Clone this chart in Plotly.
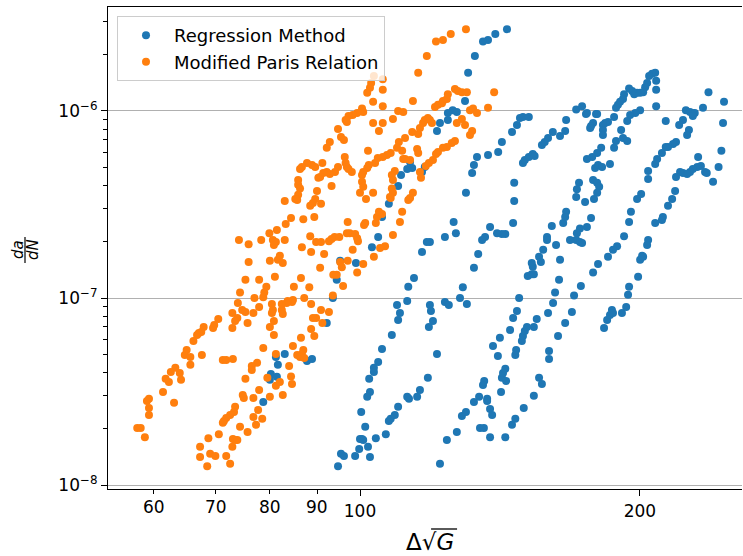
import math
import plotly.graph_objects as go

# ---- data: Regression Method (blue) ----
reg_x = [80.2, 80.0, 81.4, 81.2, 83.0, 81.6, 87.7, 88.8, 78.7, 92.1,
         93.5, 94.4, 95.2, 99.0, 103.0, 104.6, 105.6, 107.4, 109.6, 109.9,
         108.2, 105.6, 104.6, 103.5, 103.5, 102.3, 102.5, 101.8, 100.3, 101.3,
         100.0, 100.5, 100.8, 99.8, 102.0, 102.5, 98.8, 95.4, 96.1, 94.7,
         104.0, 106.6, 107.4, 107.9, 109.0, 109.9, 109.9, 130.7, 129.7, 125.8,
         127.1, 124.3, 124.3, 121.9, 121.0, 113.2, 113.8, 112.4, 110.7, 117.4,
         116.6, 133.6, 132.6, 132.0, 130.0, 143.9, 139.8, 137.3, 135.6, 132.9,
         137.3, 140.8, 142.1, 145.7, 147.5, 148.6, 149.7, 151.9, 146.5, 146.5,
         146.1, 143.3, 142.1, 140.4, 138.0, 136.3, 135.3, 134.0, 132.6, 129.0,
         128.1, 126.1, 126.8, 123.4, 118.9, 118.0, 116.6, 114.3, 112.7, 149.7,
         150.4, 151.9, 153.4, 154.1, 156.9, 158.0, 159.3, 161.2, 164.1, 166.2,
         166.6, 170.8, 173.3, 175.0, 179.4, 178.1, 177.2, 176.8, 207.7, 206.1,
         204.6, 208.2, 208.2, 203.6, 202.6, 201.6, 200.1, 198.6, 197.2, 196.2,
         194.7, 192.3, 191.8, 190.4, 189.4, 188.5, 187.6, 208.2, 200.1, 197.7,
         195.2, 193.8, 190.9, 188.5, 191.8, 193.8, 187.6, 184.8, 183.5, 182.5,
         182.5, 182.5, 179.9, 175.4, 181.7, 179.9, 177.7, 175.4, 179.0, 180.3,
         182.1, 185.7, 178.1, 179.9, 180.8, 179.9, 178.5, 172.0, 171.1, 170.8,
         174.6, 177.2, 175.4, 172.4, 171.1, 170.8, 172.4, 173.3, 168.2, 166.6,
         166.2, 165.4, 160.8, 158.9, 158.9, 162.5, 157.4, 164.1, 213.2, 224.1,
         226.4, 228.0, 229.1, 228.0, 233.8, 237.0, 246.3, 245.7, 222.5, 220.4,
         225.8, 224.8, 218.7, 217.1, 214.4, 213.2, 211.2, 208.7, 207.7, 204.1,
         204.1, 200.6, 198.6, 195.6, 194.7, 192.3, 189.0, 187.1, 184.8, 204.1,
         203.6, 201.6, 231.0, 232.6, 230.5, 228.0, 226.4, 224.8, 222.5, 220.9,
         218.7, 235.0, 236.0, 239.7, 243.0, 244.7, 218.2, 216.6, 214.4, 211.7,
         211.2, 207.7, 139.0, 141.4, 145.0, 146.1, 147.5, 148.3, 149.3, 149.7,
         150.4, 151.2, 153.8, 154.9, 151.5, 153.0, 153.8, 153.4, 153.0, 155.8,
         156.5, 163.7, 162.1, 161.3, 159.3, 163.3, 166.2, 169.0, 169.9, 172.8,
         178.1, 180.3, 183.0, 184.4, 185.7, 186.6, 187.1, 191.3, 193.3, 194.2,
         194.7, 199.1, 200.1, 201.1, 112.4, 110.4, 118.9, 119.2, 119.8, 118.6,
         123.4, 124.6, 130.3, 121.0, 118.3, 116.0, 115.2, 112.9, 112.4, 121.9,
         124.0, 127.1, 128.7, 130.0, 132.6, 134.3, 136.0, 135.6, 137.0, 137.0,
         138.0, 138.7, 138.0, 134.6, 135.9, 140.7, 141.8, 142.1, 142.5, 143.3,
         143.6, 143.3, 145.7, 146.9, 147.2, 146.9, 150.0, 153.8, 155.8, 156.9,
         159.7, 159.7]
reg_y = [3.92e-8, 3.65e-8, 3.79e-8, 4.84e-8, 5.02e-8, 4.39e-8, 4.60e-8, 4.72e-8, 2.78e-8, 7.36e-8,
         1.00e-7, 1.25e-7, 1.58e-7, 1.54e-7, 1.87e-7, 2.12e-7, 2.71e-7, 3.19e-7, 9.18e-8, 7.63e-8,
         6.35e-8, 5.34e-8, 4.55e-8, 4.23e-8, 4.02e-8, 3.70e-8, 3.14e-8, 2.96e-8, 2.46e-8, 2.05e-8,
         1.76e-8, 1.76e-8, 1.74e-8, 1.56e-8, 1.60e-8, 1.41e-8, 1.43e-8, 1.47e-8, 1.43e-8, 1.26e-8,
         1.78e-8, 1.87e-8, 2.20e-8, 2.26e-8, 2.37e-8, 2.62e-8, 3.97e-7, 1.60e-6, 1.13e-6, 1.01e-6,
         9.88e-7, 9.76e-7, 8.95e-7, 8.63e-7, 7.82e-7, 5.34e-7, 4.96e-7, 4.90e-7, 4.55e-7, 5.02e-7,
         4.72e-7, 5.68e-7, 5.15e-7, 4.66e-7, 3.65e-7, 2.74e-6, 2.58e-6, 2.40e-6, 2.35e-6, 1.97e-6,
         5.82e-7, 6.04e-7, 6.83e-7, 7.72e-7, 8.42e-7, 9.17e-7, 9.29e-7, 9.29e-7, 4.13e-7, 3.30e-7,
         2.52e-7, 2.20e-7, 2.20e-7, 2.22e-7, 2.40e-7, 2.12e-7, 2.04e-7, 1.72e-7, 1.45e-7, 1.14e-7,
         1.00e-7, 2.55e-7, 2.22e-7, 2.12e-7, 1.99e-7, 1.99e-7, 1.76e-7, 1.28e-7, 1.15e-7, 5.27e-7,
         5.47e-7, 5.68e-7, 5.89e-7, 5.75e-7, 6.58e-7, 6.83e-7, 7.18e-7, 7.72e-7, 7.35e-7, 7.82e-7,
         8.95e-7, 1.02e-6, 1.06e-6, 9.64e-7, 9.64e-7, 8.63e-7, 8.32e-7, 8.12e-7, 1.60e-6, 1.58e-6,
         1.54e-6, 1.45e-6, 1.30e-6, 1.41e-6, 1.34e-6, 1.26e-6, 1.25e-6, 1.25e-6, 1.23e-6, 1.28e-6,
         1.32e-6, 1.23e-6, 1.16e-6, 1.12e-6, 1.08e-6, 1.04e-6, 9.29e-7, 1.06e-6, 1.01e-6, 9.76e-7,
         9.52e-7, 8.84e-7, 7.91e-7, 6.91e-7, 7.18e-7, 6.91e-7, 6.35e-7, 8.73e-7, 8.63e-7, 8.42e-7,
         7.91e-7, 7.44e-7, 9.64e-7, 9.76e-7, 6.35e-7, 5.96e-7, 5.68e-7, 5.54e-7, 4.96e-7, 5.15e-7,
         5.02e-7, 5.21e-7, 4.28e-7, 4.13e-7, 3.93e-7, 3.65e-7, 3.38e-7, 4.13e-7, 3.82e-7, 3.47e-7,
         3.26e-7, 2.68e-7, 2.40e-7, 2.35e-7, 2.22e-7, 2.04e-7, 1.99e-7, 1.97e-7, 2.04e-7, 2.89e-7,
         2.71e-7, 2.52e-7, 2.43e-7, 2.12e-7, 2.04e-7, 1.92e-7, 1.81e-7, 1.60e-7, 8.84e-7, 1.01e-6,
         9.88e-7, 9.76e-7, 9.76e-7, 9.40e-7, 1.04e-6, 1.26e-6, 1.12e-6, 8.63e-7, 8.95e-7, 8.42e-7,
         7.91e-7, 7.44e-7, 6.83e-7, 6.66e-7, 6.42e-7, 6.42e-7, 5.96e-7, 5.54e-7, 5.21e-7, 4.78e-7,
         4.33e-7, 3.60e-7, 3.38e-7, 2.89e-7, 2.55e-7, 2.14e-7, 1.89e-7, 1.81e-7, 1.66e-7, 2.04e-7,
         1.92e-7, 1.66e-7, 5.68e-7, 5.08e-7, 5.02e-7, 4.90e-7, 4.72e-7, 4.61e-7, 4.66e-7, 4.72e-7,
         4.44e-7, 4.72e-7, 4.66e-7, 4.18e-7, 5.02e-7, 6.12e-7, 3.73e-7, 3.38e-7, 3.11e-7, 2.71e-7,
         2.61e-7, 2.52e-7, 5.54e-8, 6.12e-8, 6.75e-8, 7.82e-8, 8.53e-8, 1.00e-7, 5.89e-8, 6.27e-8,
         6.66e-8, 7.00e-8, 7.00e-8, 7.73e-8, 1.31e-7, 1.34e-7, 1.34e-7, 1.47e-7, 1.54e-7, 1.66e-7,
         1.56e-7, 1.25e-7, 1.07e-7, 9.41e-8, 8.31e-8, 6.27e-8, 7.36e-8, 8.42e-8, 1.03e-7, 1.16e-7,
         1.37e-7, 1.52e-7, 6.91e-8, 7.63e-8, 8.12e-8, 8.63e-8, 8.31e-8, 8.31e-8, 8.95e-8, 1.04e-7,
         1.15e-7, 1.30e-7, 1.60e-7, 1.68e-7, 9.64e-8, 8.31e-8, 9.18e-8, 8.53e-8, 7.54e-8, 7.00e-8,
         9.52e-8, 9.18e-8, 9.29e-8, 5.02e-8, 3.75e-8, 3.22e-8, 2.96e-8, 2.89e-8, 2.96e-8, 1.30e-8,
         1.74e-8, 1.92e-8, 2.34e-8, 2.46e-8, 2.78e-8, 2.96e-8, 3.60e-8, 3.43e-8, 2.89e-8, 2.81e-8,
         2.55e-8, 2.37e-8, 1.80e-8, 2.02e-8, 2.02e-8, 4.90e-8, 3.14e-8, 3.75e-8, 3.97e-8, 4.18e-8,
         3.60e-8, 1.80e-8, 2.10e-8, 2.26e-8, 5.27e-8, 4.96e-8, 2.58e-8, 3.00e-8, 3.75e-8, 3.47e-8,
         5.21e-8, 4.72e-8]

# ---- data: Modified Paris Relation (orange) ----
par_x = [83.0, 85.6, 88.4, 90.8, 89.3, 86.9, 84.3, 83.2, 81.4, 79.9,
         74.1, 75.9, 78.3, 80.6, 81.2, 83.0, 80.8, 80.0, 81.6, 82.6,
         82.0, 75.9, 81.0, 75.3, 77.9, 79.3, 78.9, 78.7, 77.0, 74.3,
         73.9, 74.7, 75.3, 72.9, 73.8, 73.4, 72.9, 75.7, 76.8, 77.9,
         70.4, 69.7, 69.5, 67.9, 67.5, 67.1, 66.8, 66.2, 65.1, 64.8,
         65.7, 67.6, 65.7, 64.0, 64.2, 63.3, 62.6, 62.3, 61.8, 61.4,
         63.1, 59.3, 59.0, 59.3, 59.3, 57.6, 58.1, 58.7, 71.2, 71.8,
         73.0, 88.4, 86.6, 88.6, 91.5, 90.6, 89.7, 90.8, 92.6, 93.2,
         93.9, 95.0, 96.8, 97.5, 98.8, 99.3, 99.5, 97.0, 101.0, 101.3,
         104.0, 104.3, 105.6, 104.8, 108.5, 106.4, 105.1, 103.5, 100.8, 99.3,
         98.2, 97.0, 95.2, 95.6, 93.6, 94.4, 95.9, 93.5, 92.6, 90.8,
         91.1, 89.7, 89.0, 88.6, 89.3, 86.4, 86.9, 86.6, 85.6, 86.2,
         87.1, 84.7, 84.7, 84.5, 83.6, 83.4, 84.9, 86.4, 88.2, 87.1,
         88.6, 82.4, 82.6, 82.4, 80.4, 80.6, 80.4, 80.8, 80.0, 80.8,
         78.7, 81.2, 77.5, 76.5, 76.5, 75.3, 79.5, 81.2, 82.0, 83.9,
         84.3, 84.5, 80.0, 82.6, 77.9, 76.8, 74.8, 75.0, 77.7, 76.8,
         78.5, 77.3, 75.7, 74.3, 73.4, 73.2, 72.5, 71.8, 71.4, 71.2,
         70.5, 73.0, 73.4, 73.8, 72.9, 68.7, 67.3, 67.3, 69.0, 69.9,
         71.8, 72.5, 68.5, 103.5, 105.8, 102.8, 102.5, 101.8, 105.8, 103.3,
         105.8, 100.5, 100.8, 99.3, 98.2, 97.2, 96.5, 96.8, 103.3, 105.8,
         108.5, 104.8, 94.7, 95.4, 96.1, 92.1, 102.0, 110.1, 107.9, 106.9,
         105.8, 104.5, 103.8, 102.2, 101.8, 100.8, 96.3, 96.5, 96.8, 97.2,
         98.0, 94.7, 94.0, 92.8, 92.1, 91.3, 90.6, 91.1, 89.5, 88.8,
         87.7, 86.6, 86.2, 90.2, 93.2, 85.8, 85.8, 86.2, 89.9, 85.8,
         85.2, 89.5, 89.0, 100.5, 100.5, 100.8, 100.0, 101.5, 103.3, 108.2,
         108.5, 107.9, 115.5, 114.0, 109.9, 111.3, 111.8, 111.0, 111.3, 113.8,
         115.5, 116.0, 116.9, 117.4, 118.3, 118.9, 119.5, 120.4, 121.3, 122.5,
         122.8, 124.0, 124.3, 126.5, 127.4, 128.7, 130.3, 131.3, 132.3, 133.6,
         127.1, 128.7, 129.7, 132.0, 131.3, 126.5, 125.5, 124.0, 122.8, 121.3,
         120.7, 119.8, 118.6, 117.7, 116.0, 116.3, 115.2, 115.5, 113.2, 111.8,
         109.0, 108.2, 108.5, 107.7, 114.0, 113.2, 112.7, 130.0, 125.2, 122.8,
         120.7, 118.0, 137.3, 139.4, 111.0, 110.4, 109.6, 92.8]
par_y = [3.30e-7, 3.34e-7, 3.11e-7, 3.19e-7, 2.71e-7, 2.64e-7, 2.68e-7, 2.49e-7, 2.31e-7, 2.22e-7,
         2.04e-7, 1.94e-7, 2.04e-7, 2.04e-7, 1.99e-7, 2.04e-7, 1.92e-7, 1.58e-7, 1.60e-7, 1.54e-7,
         1.68e-7, 1.56e-7, 1.30e-7, 1.25e-7, 1.25e-7, 1.15e-7, 1.07e-7, 1.01e-7, 1.00e-7, 1.07e-7,
         9.41e-8, 8.63e-8, 8.42e-8, 8.31e-8, 7.82e-8, 7.54e-8, 6.91e-8, 7.36e-8, 8.31e-8, 8.95e-8,
         7.73e-8, 7.18e-8, 6.91e-8, 7.00e-8, 6.58e-8, 6.50e-8, 6.35e-8, 5.89e-8, 5.27e-8, 4.96e-8,
         4.84e-8, 4.96e-8, 4.39e-8, 3.97e-8, 3.65e-8, 4.23e-8, 4.02e-8, 3.56e-8, 3.70e-8, 3.14e-8,
         2.75e-8, 2.89e-8, 2.81e-8, 2.58e-8, 2.37e-8, 2.02e-8, 2.02e-8, 1.80e-8, 4.66e-8, 4.66e-8,
         4.72e-8, 2.14e-7, 1.87e-7, 1.76e-7, 1.72e-7, 1.45e-7, 1.99e-7, 1.99e-7, 2.01e-7, 2.07e-7,
         2.12e-7, 2.12e-7, 2.22e-7, 2.22e-7, 2.20e-7, 2.09e-7, 2.01e-7, 2.55e-7, 2.46e-7, 2.52e-7,
         2.52e-7, 2.71e-7, 2.81e-7, 2.89e-7, 2.17e-7, 1.89e-7, 1.85e-7, 1.66e-7, 1.52e-7, 1.37e-7,
         1.81e-7, 1.58e-7, 1.56e-7, 1.46e-7, 1.33e-7, 1.33e-7, 1.16e-7, 1.03e-7, 8.42e-8, 8.63e-8,
         7.36e-8, 7.82e-8, 7.82e-8, 6.83e-8, 6.27e-8, 6.12e-8, 5.27e-8, 5.02e-8, 4.96e-8, 4.84e-8,
         4.78e-8, 5.54e-8, 9.76e-8, 9.52e-8, 9.64e-8, 9.41e-8, 1.15e-7, 1.28e-7, 1.14e-7, 1.00e-7,
         9.29e-8, 8.63e-8, 8.22e-8, 9.29e-8, 9.29e-8, 8.63e-8, 8.31e-8, 7.54e-8, 7.00e-8, 6.35e-8,
         5.41e-8, 5.02e-8, 4.50e-8, 4.33e-8, 4.12e-8, 3.70e-8, 3.75e-8, 3.39e-8, 3.56e-8, 4.33e-8,
         3.80e-8, 3.47e-8, 2.96e-8, 3.03e-8, 3.22e-8, 2.92e-8, 3.03e-8, 2.92e-8, 2.52e-8, 2.31e-8,
         2.26e-8, 2.10e-8, 1.92e-8, 2.05e-8, 2.62e-8, 2.46e-8, 2.37e-8, 2.28e-8, 2.20e-8, 2.15e-8,
         1.87e-8, 1.76e-8, 1.74e-8, 1.74e-8, 1.60e-8, 1.78e-8, 1.60e-8, 1.41e-8, 1.47e-8, 1.43e-8,
         1.43e-8, 1.30e-8, 1.26e-8, 1.54e-6, 1.48e-6, 1.41e-6, 1.33e-6, 1.25e-6, 1.30e-6, 1.12e-6,
         1.06e-6, 1.03e-6, 9.88e-7, 9.76e-7, 9.52e-7, 9.40e-7, 8.95e-7, 8.73e-7, 8.63e-7, 8.63e-7,
         9.06e-7, 7.82e-7, 8.00e-7, 7.26e-7, 7.00e-7, 6.35e-7, 6.12e-7, 6.83e-7, 5.96e-7, 5.82e-7,
         5.68e-7, 5.61e-7, 5.27e-7, 5.15e-7, 4.96e-7, 4.72e-7, 5.68e-7, 5.27e-7, 5.02e-7, 4.90e-7,
         4.72e-7, 5.02e-7, 4.72e-7, 4.61e-7, 4.72e-7, 4.66e-7, 4.44e-7, 5.27e-7, 5.02e-7, 5.15e-7,
         5.27e-7, 5.02e-7, 4.90e-7, 4.39e-7, 3.97e-7, 4.28e-7, 4.03e-7, 3.85e-7, 3.73e-7, 3.56e-7,
         3.38e-7, 3.38e-7, 3.22e-7, 4.55e-7, 4.18e-7, 3.93e-7, 3.65e-7, 3.38e-7, 3.65e-7, 3.85e-7,
         3.65e-7, 3.43e-7, 1.60e-6, 1.13e-6, 1.00e-6, 9.88e-7, 7.18e-7, 6.12e-7, 5.54e-7, 7.72e-7,
         7.54e-7, 8.12e-7, 8.63e-7, 8.95e-7, 9.17e-7, 8.95e-7, 8.63e-7, 1.05e-6, 1.08e-6, 1.10e-6,
         1.13e-6, 1.16e-6, 1.23e-6, 1.31e-6, 1.28e-6, 1.26e-6, 1.26e-6, 1.01e-6, 1.03e-6, 9.76e-7,
         8.63e-7, 9.06e-7, 8.42e-7, 7.82e-7, 7.44e-7, 6.91e-7, 6.75e-7, 6.42e-7, 6.35e-7, 6.04e-7,
         5.89e-7, 5.47e-7, 5.27e-7, 5.08e-7, 4.72e-7, 4.39e-7, 6.27e-7, 5.96e-7, 5.47e-7, 5.54e-7,
         4.78e-7, 4.55e-7, 4.28e-7, 3.47e-7, 3.65e-7, 3.43e-7, 3.34e-7, 2.74e-6, 2.58e-6, 2.40e-6,
         2.35e-6, 1.97e-6, 1.04e-6, 1.26e-6, 2.89e-7, 2.55e-7, 6.35e-7, 6.83e-7]

# ---- axis ticks ----
x_major = [100, 200]
x_major_text = ["100", "200"]
x_minor = [60, 70, 80, 90]
x_minor_text = ["60", "70", "80", "90"]
y_major = [1e-8, 1e-7, 1e-6]
y_major_text = ["10<sup>\u22128</sup>", "10<sup>\u22127</sup>", "10<sup>\u22126</sup>"]
y_minor = [m * 10.0 ** e for e in (-8, -7, -6) for m in range(2, 10)]

FONT = "DejaVu Sans"

fig = go.Figure()
fig.add_trace(go.Scatter(x=reg_x, y=reg_y, mode="markers", name="Regression Method",
                         marker=dict(color="#1f77b4", size=8, line=dict(width=0))))
fig.add_trace(go.Scatter(x=par_x, y=par_y, mode="markers", name="Modified Paris Relation",
                         marker=dict(color="#ff7f0e", size=8, line=dict(width=0))))

fig.update_layout(
    width=743, height=556,
    margin=dict(l=108, r=1, t=7, b=67),
    paper_bgcolor="white", plot_bgcolor="white",
    font=dict(family=FONT, size=17, color="black"),
    showlegend=True,
    legend=dict(x=0.0142, y=0.981, xanchor="left", yanchor="top",
                bgcolor="rgba(255,255,255,0.8)", bordercolor="#cccccc", borderwidth=1,
                itemwidth=46, tracegroupgap=0,
                font=dict(family=FONT, size=18, color="black")),
)

fig.update_xaxes(type="log", range=[1.7290, 2.4108],
                 tickmode="array", tickvals=x_major, ticktext=x_major_text,
                 ticks="outside", ticklen=6, tickwidth=1.2, tickcolor="black",
                 showline=True, linecolor="black", linewidth=1.2, mirror=True,
                 showgrid=False, zeroline=False,
                 tickfont=dict(family=FONT, size=17, color="black"),
                 minor=dict(tickmode="array", tickvals=x_minor, ticks="outside",
                            ticklen=3.5, tickwidth=1, tickcolor="black", showgrid=False))

fig.update_yaxes(type="log", range=[-8.0214, -5.4439],
                 tickmode="array", tickvals=y_major, ticktext=y_major_text,
                 ticks="outside", ticklen=6, tickwidth=1.2, tickcolor="black",
                 showline=True, linecolor="black", linewidth=1.2, mirror=False,
                 showgrid=True, gridcolor="#b0b0b0", gridwidth=1.4, zeroline=False,
                 tickfont=dict(family=FONT, size=17, color="black"),
                 minor=dict(tickmode="array", tickvals=y_minor, ticks="outside",
                            ticklen=3.5, tickwidth=1, tickcolor="black", showgrid=False))

# minor x tick labels
for v, t in zip(x_minor, x_minor_text):
    fig.add_annotation(x=math.log10(v), xref="x", y=0, yref="paper", yanchor="top",
                       yshift=-6, text=t, showarrow=False,
                       font=dict(family=FONT, size=17, color="black"))

# x axis label
fig.add_annotation(x=0.508, xref="paper", y=0, yref="paper", yanchor="middle",
                   yshift=-53, text="\u0394\u221a<i>G</i>", showarrow=False,
                   font=dict(family=FONT, size=23, color="black"))
fig.add_shape(type="line", xref="paper", yref="paper", xsizemode="pixel", ysizemode="pixel",
              xanchor=0.508, yanchor=0, x0=1, x1=27, y0=-40, y1=-40,
              line=dict(color="black", width=1.3))

# y axis label (fraction da / dN, rotated)
fig.add_annotation(x=0, xref="paper", xanchor="center", xshift=-90,
                   y=0.496, yref="paper", yanchor="middle",
                   text="<i>da</i>", textangle=-90, showarrow=False,
                   font=dict(family=FONT, size=15, color="black"))
fig.add_annotation(x=0, xref="paper", xanchor="center", xshift=-75,
                   y=0.496, yref="paper", yanchor="middle",
                   text="<i>dN</i>", textangle=-90, showarrow=False,
                   font=dict(family=FONT, size=15, color="black"))
fig.add_shape(type="line", xref="paper", yref="paper", xsizemode="pixel", ysizemode="pixel",
              xanchor=0, yanchor=0.496, x0=-83, x1=-83, y0=-13, y1=13,
              line=dict(color="black", width=1.2))

fig.write_html("out.html")
